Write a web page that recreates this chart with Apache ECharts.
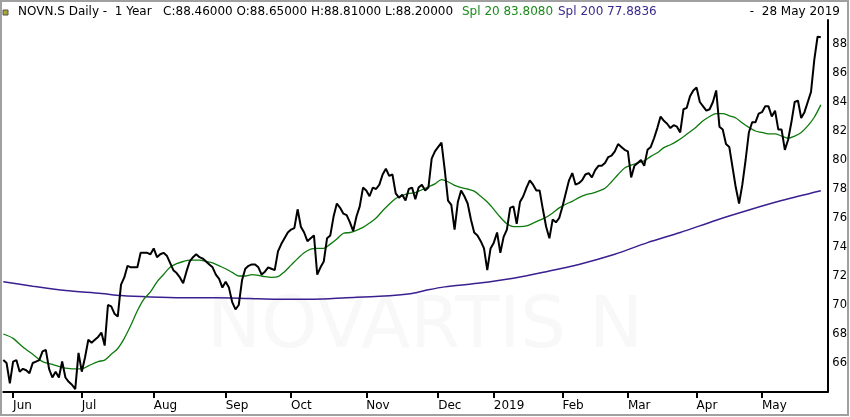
<!DOCTYPE html>
<html>
<head>
<meta charset="utf-8">
<script src="https://cdn.jsdelivr.net/npm/echarts@6/dist/echarts.min.js"></script>
<style>html,body{margin:0;padding:0;background:#fff}#c{width:850px;height:417px}</style>
</head>
<body>
<div id="c"></div>
<script>
// ---- data ----
const startDate = '2018-05-29';
const endDate = '2019-05-28';
const holidays = ['2018-08-01','2018-12-24','2018-12-25','2018-12-26','2018-12-31','2019-01-01','2019-01-02','2019-04-19','2019-04-22','2019-05-01'];
const monthLabels = ['Jun','Jul','Aug','Sep','Oct','Nov','Dec','2019','Feb','Mar','Apr','May'];
const yTicks = [66,68,70,72,74,76,78,80,82,84,86,88];

const closeValues = [
66.2,66.0,64.6,66.1,66.2,65.4,65.6,65.5,65.3,66.0,
66.1,66.2,66.8,66.9,65.6,65.0,65.4,65.0,66.1,65.0,
64.7,64.5,64.2,66.7,65.4,66.4,67.6,67.4,67.6,67.8,
68.1,67.2,70.0,69.9,69.4,69.2,71.4,71.9,72.7,72.6,
72.6,72.6,73.6,73.6,73.6,73.5,73.9,73.3,73.5,73.6,
73.4,72.9,72.4,72.2,71.9,71.5,72.3,73.0,73.3,73.5,
73.3,73.2,73.0,72.8,72.6,72.1,71.8,71.2,71.6,71.2,
70.2,69.7,70.0,71.7,72.5,72.7,72.8,72.8,72.6,72.1,
72.3,72.6,72.5,72.4,73.7,74.2,74.6,75.0,75.2,75.3,
76.6,75.4,75.0,74.4,74.6,74.8,72.1,72.6,73.0,74.6,
74.8,76.1,77.0,76.7,76.3,76.2,75.7,75.1,76.1,76.8,
78.1,77.9,77.5,78.1,78.0,78.3,79.0,79.4,78.9,79.0,
77.7,77.4,77.6,77.2,78.0,78.1,77.3,78.1,78.3,77.9,
78.1,80.1,80.6,80.9,81.2,79.3,77.2,76.9,75.2,77.1,
77.9,77.5,77.0,75.9,75.0,74.8,74.4,73.9,72.4,73.9,
74.3,75.0,73.6,74.7,75.2,76.7,76.8,75.6,77.1,77.5,
78.1,78.6,78.3,77.9,77.9,76.6,75.4,74.6,75.9,75.7,
76.0,76.8,77.7,78.6,79.1,78.3,78.4,78.6,79.0,79.1,
78.8,79.3,79.6,79.6,79.8,80.2,80.3,80.6,81.1,80.9,
80.7,80.6,78.8,79.6,79.8,80.0,79.6,80.7,80.9,81.5,
82.2,83.0,82.7,82.5,82.2,82.4,82.3,81.9,83.5,83.6,
84.4,84.8,85.0,84.0,83.7,83.4,83.5,84.0,84.8,82.3,
82.1,81.1,80.9,79.5,78.1,77.0,78.3,80.0,81.9,82.6,
82.6,83.2,83.3,83.7,83.7,83.0,83.4,82.1,82.1,80.7,
81.4,82.6,84.0,84.1,82.9,83.3,84.0,84.7,86.9,88.5,88.46
];

// Spl 20 (trading-day index, value)
const sma20Idx = [0,3,6,9,12,15,18,21,24,26,29,31,33,35,37,39,41,43,45,47,49,51,53,55,57,60,62,64,66,68,70,72,74,76,78,80,82,84,86,88,90,92,94,96,98,100,102,104,106,108,110,112,114,116,118,120,122,124,126,128,130,132,134,136,138,140,142,144,146,148,150,152,154,156,158,160,162,164,166,168,170,172,174,176,178,180,182,184,186,188,190,192,194,196,198,200,202,204,206,208,210,212,214,216,218,220,222,224,226,228,230,232,234,236,238,240,242,244,246,248,250];
const sma20Val = [68.0,67.7,67.1,66.6,66.1,65.9,65.7,65.6,65.6,65.8,66.1,66.2,66.6,67.0,67.7,68.6,69.6,70.4,70.9,71.6,72.1,72.6,72.85,73.0,73.1,73.1,73.0,72.9,72.7,72.5,72.25,72.0,72.0,72.1,72.05,71.95,71.9,71.95,72.3,72.75,73.2,73.6,73.85,73.9,73.9,74.2,74.55,74.95,75.0,75.15,75.35,75.65,76.0,76.5,76.95,77.35,77.55,77.7,77.75,77.95,78.15,78.35,78.65,78.5,78.25,78.1,78.0,77.85,77.5,77.1,76.6,76.05,75.6,75.4,75.4,75.45,75.65,75.85,76.05,76.35,76.7,76.95,77.15,77.4,77.6,77.7,77.85,78.05,78.5,79.0,79.45,79.65,79.8,79.95,80.25,80.5,80.85,81.05,81.3,81.6,81.95,82.3,82.7,83.0,83.2,83.2,83.05,82.9,82.55,82.25,82.0,81.9,81.8,81.8,81.65,81.5,81.65,81.9,82.35,82.95,83.8];

// Spl 200 (trading-day index, value)
const sma200Idx = [0,9,19,30,36,45,55,65,75,84,95,105,115,125,130,135,145,156,166,176,187,197,207,218,228,238,250];
const sma200Val = [71.6,71.3,71.0,70.8,70.65,70.55,70.5,70.5,70.45,70.4,70.4,70.5,70.6,70.8,71.05,71.25,71.5,71.85,72.3,72.8,73.5,74.3,75.0,75.85,76.55,77.2,77.88];

// ---- build trading-day categories ----
function pad(n){return n<10?'0'+n:''+n;}
const categories = [];
(function(){
  const d = new Date(startDate+'T12:00:00Z');
  const e = new Date(endDate+'T12:00:00Z');
  while (d <= e) {
    const wd = d.getUTCDay();
    const s = d.getUTCFullYear()+'-'+pad(d.getUTCMonth()+1)+'-'+pad(d.getUTCDate());
    if (wd !== 0 && wd !== 6 && holidays.indexOf(s) < 0) categories.push(s);
    d.setUTCDate(d.getUTCDate()+1);
  }
})();
const nReal = categories.length;
categories.push('', ''); // right-side padding before the price axis

const monthStart = {};
(function(){
  let k = 0;
  for (let i = 1; i < nReal; i++) {
    if (categories[i].slice(0,7) !== categories[i-1].slice(0,7)) {
      monthStart[i] = monthLabels[k++];
    }
  }
})();

const FONT = 'DejaVu Sans';
const chart = echarts.init(document.getElementById('c'), null, {renderer:'canvas'});
chart.setOption({
  animation: false,
  backgroundColor: '#ffffff',
  grid: {left: 3.3, right: 20.4, top: 20, bottom: 25, containLabel: false},
  xAxis: {
    type: 'category',
    data: categories,
    boundaryGap: false,
    axisLine: {show: true, lineStyle: {color: '#000', width: 2}},
    axisTick: {show: true, length: 6, lineStyle: {color: '#000', width: 2},
      interval: function(i){ return monthStart[i] !== undefined; }},
    axisLabel: {show: true, margin: 8, align: 'left', color: '#000', fontFamily: FONT, fontSize: 12,
      interval: function(i){ return monthStart[i] !== undefined; },
      formatter: function(v, i){ return monthStart[i] !== undefined ? monthStart[i] : ''; }},
    splitLine: {show: false}
  },
  yAxis: {
    type: 'value',
    position: 'right',
    min: 64, max: 89.655, interval: 2,
    axisLine: {show: true, lineStyle: {color: '#000', width: 2}},
    axisTick: {show: false},
    splitLine: {show: false},
    axisLabel: {margin: 5, color: '#000', fontFamily: FONT, fontSize: 11.5,
      formatter: function(v){ return yTicks.indexOf(v) >= 0 ? String(v) : ''; }}
  },
  graphic: [
    {type: 'rect', z: 100, silent: true, shape: {x: 1, y: 1, width: 847, height: 414},
      style: {fill: 'none', stroke: '#a0a0a0', lineWidth: 2}},
    {type: 'rect', z: 100, silent: true, shape: {x: 3, y: 10, width: 5, height: 5},
      style: {fill: '#a8a830', stroke: '#555', lineWidth: 1}},
    {type: 'text', z: 0, silent: true, left: 'center', top: 292,
      style: {text: 'NOVARTIS N', fill: '#f8f8f8', font: '72px "DejaVu Sans"'}},
    {type: 'text', z: 100, silent: true, x: 18, y: 12,
      style: {text: 'NOVN.S Daily -  1 Year   C:88.46000 O:88.65000 H:88.81000 L:88.20000', fill: '#000',
        font: '12px "DejaVu Sans"', verticalAlign: 'middle'}},
    {type: 'text', z: 100, silent: true, x: 462, y: 12,
      style: {text: 'Spl 20 83.8080', fill: '#1c8a1c', font: '12px "DejaVu Sans"', verticalAlign: 'middle'}},
    {type: 'text', z: 100, silent: true, x: 558, y: 12,
      style: {text: 'Spl 200 77.8836', fill: '#3a2a8c', font: '12px "DejaVu Sans"', verticalAlign: 'middle'}},
    {type: 'text', z: 100, silent: true, x: 840, y: 12,
      style: {text: '-  28 May 2019', fill: '#000', font: '12px "DejaVu Sans"', verticalAlign: 'middle', align: 'right'}}
  ],
  series: [
    {name: 'Spl 200', type: 'line', showSymbol: false, silent: true, z: 2,
      data: sma200Idx.map(function(i,k){ return [i, sma200Val[k]]; }),
      smooth: 0.3, lineStyle: {color: '#3b1f90', width: 1.5}},
    {name: 'Spl 20', type: 'line', showSymbol: false, silent: true, z: 3,
      data: sma20Idx.map(function(i,k){ return [i, sma20Val[k]]; }),
      smooth: 0.3, lineStyle: {color: '#0d7a0d', width: 1.3}},
    {name: 'NOVN.S', type: 'line', showSymbol: false, silent: true, z: 4,
      data: closeValues,
      lineStyle: {color: '#000', width: 2}}
  ]
});
</script>
</body>
</html>
